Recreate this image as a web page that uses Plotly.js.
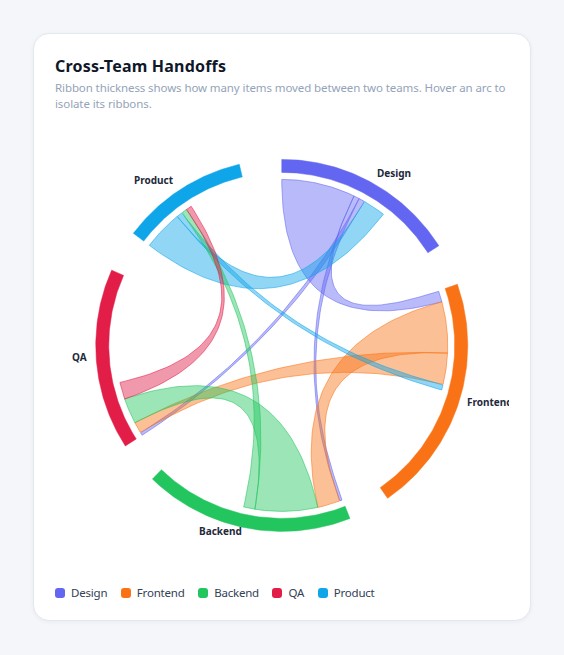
<!DOCTYPE html>
<html>
<head>
<meta charset="utf-8">
<script src="https://cdn.plot.ly/plotly-3.0.1.min.js"></script>
<style>
html,body{margin:0;padding:0;background:#f4f6f9;}
body{width:564px;height:655px;position:relative;overflow:hidden;font-family:"Noto Sans","Open Sans",sans-serif;}
.card{position:absolute;left:33px;top:33px;width:498px;height:588px;background:#fff;border:1px solid #e2e8f0;border-radius:16px;box-shadow:0 1px 4px rgba(15,23,42,0.05);box-sizing:border-box;}
.title{position:absolute;left:55px;top:56px;font-size:16px;line-height:20px;font-weight:700;letter-spacing:0.2px;color:#0f172a;white-space:nowrap;}
.sub{position:absolute;left:55px;top:80px;width:460px;font-size:11.5px;letter-spacing:-0.1px;line-height:16px;color:#94a3b8;}
#chart{position:absolute;left:55px;top:125px;width:454px;height:435px;}
.legend{position:absolute;left:55px;top:585px;display:flex;align-items:center;font-size:11.5px;letter-spacing:-0.2px;line-height:16px;color:#334155;white-space:nowrap;}
.legend .it{display:flex;align-items:center;margin-right:13.5px;}
.legend .sw{width:10px;height:10px;border-radius:3px;margin-right:6px;}
</style>
</head>
<body>
<div class="card"></div>
<div class="title">Cross-Team Handoffs</div>
<div class="sub">Ribbon thickness shows how many items moved between two teams. Hover an arc to isolate its ribbons.</div>
<div id="chart"></div>
<div class="legend" id="legend"></div>
<script>
// ---- data ----
const teams = ["Design", "Frontend", "Backend", "QA", "Product"];
const teamColors = ["#6366f1", "#f97316", "#22c55e", "#e11d48", "#0ea5e9"];
// items handed off from the row team to each column team (order = teams)
const fromDesign   = [0, 26, 2, 2, 8];
const fromFrontend = [4, 0, 18, 11, 2];
const fromBackend  = [1, 8, 0, 22, 4];
const fromQA       = [1, 4, 9, 0, 6];
const fromProduct  = [14, 2, 2, 2, 0];

// ---- layout helpers ----
const matrix = [fromDesign, fromFrontend, fromBackend, fromQA, fromProduct];
const n = teams.length;
const padAngle = 13.2 * Math.PI / 180;
const rOuter = 186, rInner = 173, rRibbon = 166, rLabel = 193;

function hexToRgba(hex, a) {
  const v = parseInt(hex.slice(1), 16);
  return `rgba(${(v >> 16) & 255},${(v >> 8) & 255},${v & 255},${a})`;
}
function pt(r, a) { return [r * Math.sin(a), r * Math.cos(a)]; }

const outSum = matrix.map(row => row.reduce((s, v) => s + v, 0));
const inSum = teams.map((_, j) => matrix.reduce((s, row) => s + row[j], 0));
const groupSum = outSum.map((v, i) => v + inSum[i]);
const total = groupSum.reduce((s, v) => s + v, 0);
const k = (2 * Math.PI - padAngle * n) / total;

const groups = [], sub = [];
let x = 0;
for (let i = 0; i < n; i++) {
  const x0 = x;
  sub[i] = [];
  let s = x0;
  for (let j = 0; j < n; j++) {
    sub[i][j] = [s, s + matrix[i][j] * k];
    s += matrix[i][j] * k;
  }
  const x1 = x0 + groupSum[i] * k;
  groups.push([x0, x1]);
  x = x1 + padAngle;
}

function arcPts(r, a0, a1, steps) {
  const out = [];
  for (let t = 0; t <= steps; t++) out.push(pt(r, a0 + (a1 - a0) * t / steps));
  return out;
}
function quadPts(p0, p2, steps) {
  const out = [];
  for (let t = 1; t < steps; t++) {
    const u = t / steps;
    out.push([(1 - u) * (1 - u) * p0[0] + u * u * p2[0], (1 - u) * (1 - u) * p0[1] + u * u * p2[1]]);
  }
  return out;
}

const traces = [];
// ribbons
for (let i = 0; i < n; i++) {
  for (let j = i + 1; j < n; j++) {
    if (!matrix[i][j] && !matrix[j][i]) continue;
    let s = j, t = i;
    if (matrix[j][i] < matrix[i][j]) { s = i; t = j; }
    const [sa0, sa1] = sub[s][t];
    const [ta0, ta1] = sub[t][s];
    let pts = [];
    pts = pts.concat(arcPts(rRibbon, sa0, sa1, 40));
    pts = pts.concat(quadPts(pt(rRibbon, sa1), pt(rRibbon, ta0), 60));
    pts = pts.concat(arcPts(rRibbon, ta0, ta1, 40));
    pts = pts.concat(quadPts(pt(rRibbon, ta1), pt(rRibbon, sa0), 60));
    pts.push(pts[0]);
    traces.push({
      type: "scatter", mode: "lines", fill: "toself",
      x: pts.map(p => p[0]), y: pts.map(p => p[1]),
      fillcolor: hexToRgba(teamColors[s], 0.45),
      line: { color: hexToRgba(teamColors[s], 0.55), width: 1 },
      hoverinfo: "skip", showlegend: false
    });
  }
}
// group arcs
const annotations = [];
groups.forEach(([a0, a1], i) => {
  const pts = arcPts(rOuter, a0, a1, 80).concat(arcPts(rInner, a1, a0, 80));
  pts.push(pts[0]);
  traces.push({
    type: "scatter", mode: "lines", fill: "toself",
    x: pts.map(p => p[0]), y: pts.map(p => p[1]),
    fillcolor: teamColors[i], line: { color: teamColors[i], width: 0.5 },
    hoverinfo: "skip", showlegend: false
  });
  const mid = (a0 + a1) / 2;
  const p = pt(rLabel, mid);
  const right = Math.sin(mid) >= 0;
  annotations.push({
    x: p[0], y: p[1], xref: "x", yref: "y", showarrow: false,
    text: teams[i], xanchor: right ? "left" : "right", yanchor: "middle",
    yshift: 3.5,
    font: { family: "Noto Sans, sans-serif", size: 10, color: "#1e293b", weight: 700 }
  });
});

Plotly.newPlot("chart", traces, {
  width: 454, height: 435,
  margin: { l: 0, r: 0, t: 0, b: 0 },
  paper_bgcolor: "rgba(0,0,0,0)", plot_bgcolor: "rgba(0,0,0,0)",
  xaxis: { range: [-226.75, 227.25], visible: false, fixedrange: true },
  yaxis: { range: [-214.6, 220.4], visible: false, fixedrange: true },
  showlegend: false, annotations: annotations, hovermode: false
}, { staticPlot: true, displayModeBar: false });

// legend
const leg = document.getElementById("legend");
teams.forEach((t, i) => {
  const it = document.createElement("div"); it.className = "it";
  const sw = document.createElement("div"); sw.className = "sw"; sw.style.background = teamColors[i];
  const lb = document.createElement("span"); lb.textContent = t;
  it.appendChild(sw); it.appendChild(lb); leg.appendChild(it);
});
</script>
</body>
</html>
